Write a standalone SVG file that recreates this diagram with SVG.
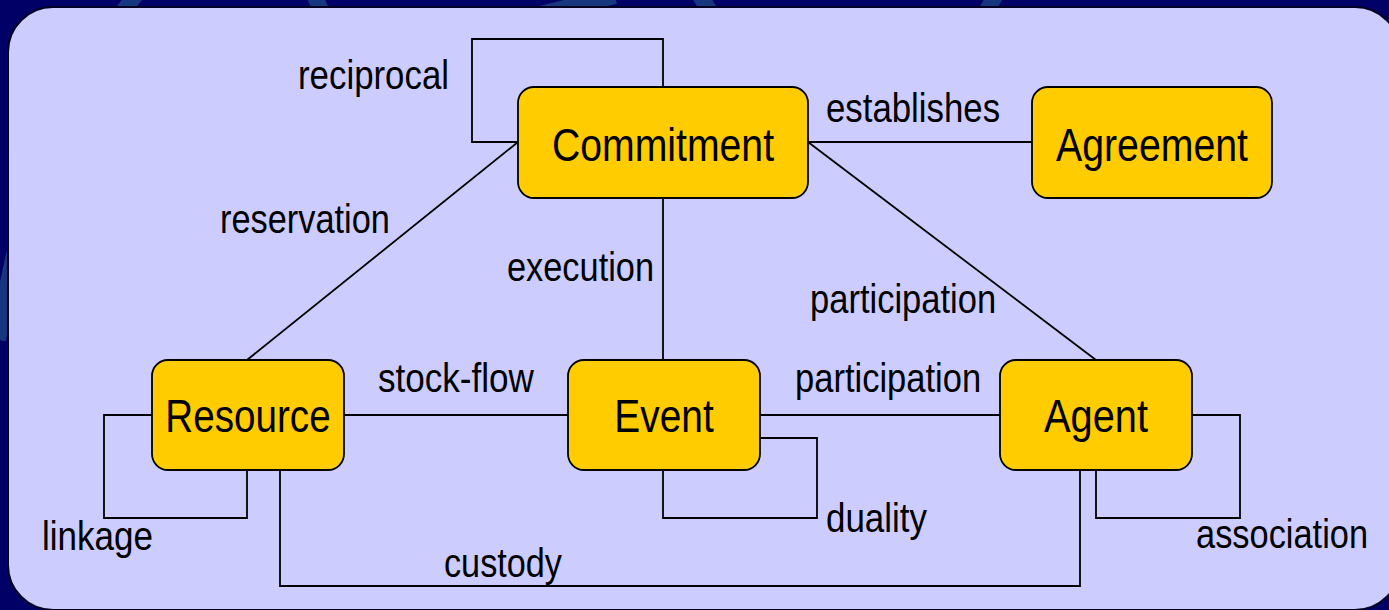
<svg xmlns="http://www.w3.org/2000/svg" width="1389" height="610" viewBox="0 0 1389 610">
<style>
.node{fill:#ffcc00;stroke:#000;stroke-width:1.8}
.nt{font-family:"Liberation Sans",Arial,sans-serif;font-size:46px;fill:#000;text-anchor:middle}
.lb{font-family:"Liberation Sans",Arial,sans-serif;font-size:40px;fill:#000}
.con{fill:none;stroke:#000;stroke-width:1.8}
.deco{fill:none;stroke:#1d4a86;stroke-width:16;opacity:0.75}
</style>
<rect x="0" y="0" width="1389" height="610" fill="#000066"/>
<g id="background-decoration">
<path class="deco" d="M 140,-10 Q 30,120 -2,340"/>
<path class="deco" d="M 312,-10 Q 360,100 420,200"/>
<path class="deco" d="M 615,-4 L 540,14"/>
<path class="deco" d="M 700,-4 L 712,14"/>
<path class="deco" d="M 995,-4 L 985,14"/>
</g>
<rect id="panel" x="8" y="7" width="1392" height="603" rx="45" ry="45" fill="#ccccff" stroke="#000022" stroke-width="2"/>
<g id="connectors">
<path class="con" d="M 663,87 V 39 H 472 V 142 H 518"/>
<line class="con" x1="808" y1="142" x2="1032" y2="142"/>
<line class="con" x1="518" y1="142" x2="247" y2="360"/>
<line class="con" x1="808" y1="142" x2="1096" y2="360"/>
<line class="con" x1="663" y1="198" x2="663" y2="360"/>
<line class="con" x1="344" y1="415" x2="568" y2="415"/>
<line class="con" x1="760" y1="415" x2="1000" y2="415"/>
<path class="con" d="M 760,438 H 817 V 518 H 663 V 470"/>
<path class="con" d="M 152,415 H 104 V 518 H 247 V 470"/>
<path class="con" d="M 280,470 V 586 H 1080 V 470"/>
<path class="con" d="M 1192,415 H 1240 V 518 H 1096 V 470"/>
<text class="lb" transform="translate(298,89) scale(0.871,1)">reciprocal</text>
<text class="lb" transform="translate(826,122) scale(0.87,1)">establishes</text>
<text class="lb" transform="translate(220,233) scale(0.859,1)">reservation</text>
<text class="lb" transform="translate(507,281) scale(0.859,1)">execution</text>
<text class="lb" transform="translate(810,313) scale(0.863,1)">participation</text>
<text class="lb" transform="translate(378,392) scale(0.877,1)">stock-flow</text>
<text class="lb" transform="translate(795,392) scale(0.863,1)">participation</text>
<text class="lb" transform="translate(42,550) scale(0.876,1)">linkage</text>
<text class="lb" transform="translate(444,577) scale(0.856,1)">custody</text>
<text class="lb" transform="translate(826,532) scale(0.874,1)">duality</text>
<text class="lb" transform="translate(1196,548) scale(0.86,1)">association</text>
</g>
<g id="node-commitment">
<rect class="node" x="518" y="87" width="290" height="111" rx="16"/>
<text class="nt" transform="translate(663,161) scale(0.852,1)">Commitment</text>
</g>
<g id="node-agreement">
<rect class="node" x="1032" y="87" width="240" height="111" rx="16"/>
<text class="nt" transform="translate(1152,161) scale(0.853,1)">Agreement</text>
</g>
<g id="node-resource">
<rect class="node" x="152" y="360" width="192" height="110" rx="16"/>
<text class="nt" transform="translate(248,432) scale(0.84,1)">Resource</text>
</g>
<g id="node-event">
<rect class="node" x="568" y="360" width="192" height="110" rx="16"/>
<text class="nt" transform="translate(664,432) scale(0.845,1)">Event</text>
</g>
<g id="node-agent">
<rect class="node" x="1000" y="360" width="192" height="110" rx="16"/>
<text class="nt" transform="translate(1096,432) scale(0.865,1)">Agent</text>
</g>
</svg>
